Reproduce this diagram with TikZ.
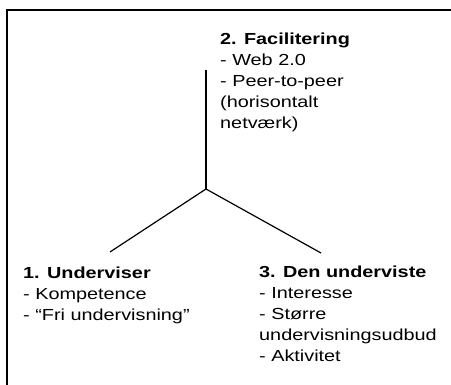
\documentclass[tikz,border=0pt]{standalone}
\usepackage{fontspec}
\newfontfamily\bodyfont{Liberation Sans}[FakeStretch=1.24]
\begin{document}
\begin{tikzpicture}[x=1pt,y=-1pt,
  frame/.style={line width=1.2pt},
  branch/.style={line width=1.2pt},
  head/.style={anchor=base west,inner sep=0pt,font=\bodyfont\fontsize{16}{18}\selectfont\bfseries},
  item/.style={anchor=base west,inner sep=0pt,font=\bodyfont\fontsize{16}{18}\selectfont}]
\useasboundingbox (0,0) rectangle (451,385);
% frame (top and left edges only)
\coordinate (fa) at (7,385);
\coordinate (fb) at (7,10);
\coordinate (fc) at (451,10);
\draw[frame] (fa) -- (fb) -- (fc);
% branches
\coordinate (top) at (206,70);
\coordinate (hub) at (206,189);
\coordinate (left) at (110,252);
\coordinate (right) at (321,253);
\draw[branch] (top) -- (hub);
\draw[branch] (hub) -- (left);
\draw[branch] (hub) -- (right);
% group 2
\node[head] (g2) at (220,45) {2. Facilitering};
\node[item] (g2a) at (220,66) {- Web 2.0};
\node[item] (g2b) at (220,87) {- Peer-to-peer};
\node[item] (g2c) at (220,108) {(horisontalt};
\node[item] (g2d) at (220,129) {netværk)};
% group 1
\node[head] (g1) at (23,279) {1. Underviser};
\node[item] (g1a) at (23,300) {- Kompetence};
\node[item] (g1b) at (23,321) {- “Fri undervisning”};
% group 3
\node[head] (g3) at (259,278) {3. Den underviste};
\node[item] (g3a) at (259,299) {- Interesse};
\node[item] (g3b) at (259,320) {- Større};
\node[item] (g3c) at (259,341) {undervisningsudbud};
\node[item] (g3d) at (259,362) {- Aktivitet};
\end{tikzpicture}
\end{document}
